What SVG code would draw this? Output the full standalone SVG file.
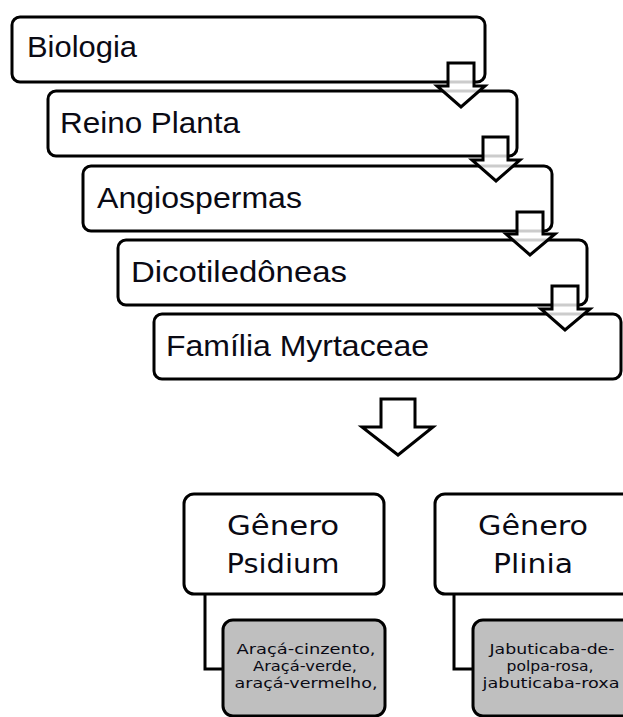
<svg xmlns="http://www.w3.org/2000/svg" width="623" height="717" viewBox="0 0 623 717">
<style>
.box{fill:#fff;stroke:#000;stroke-width:3}
.gray{fill:#bfbfbf;stroke:#000;stroke-width:3}
.arr{fill:#fff;fill-opacity:0.8;stroke:#000;stroke-width:3;stroke-linejoin:miter}
.big{fill:#fff;stroke:#000;stroke-width:3;stroke-linejoin:miter}
.lvl{font-family:"Liberation Sans",Arial,sans-serif;font-size:29px;fill:#0a0a14}
.gen{font-family:"DejaVu Sans",Verdana,sans-serif;font-size:26px;fill:#0a0a14;text-anchor:middle}
.sp{font-family:"DejaVu Sans",Verdana,sans-serif;font-size:14px;fill:#0a0a14;text-anchor:middle}
.con{fill:none;stroke:#000;stroke-width:3}
</style>
<g id="n-biologia"><rect class="box" x="12" y="17" width="473" height="65" rx="8"/><text class="lvl" x="27" y="57" textLength="110" lengthAdjust="spacingAndGlyphs">Biologia</text></g>
<g id="n-reino"><rect class="box" x="48" y="91" width="469" height="65" rx="8"/><text class="lvl" x="60" y="133" textLength="180" lengthAdjust="spacingAndGlyphs">Reino Planta</text></g>
<g id="n-angio"><rect class="box" x="83" y="166" width="469" height="65" rx="8"/><text class="lvl" x="97" y="208" textLength="205" lengthAdjust="spacingAndGlyphs">Angiospermas</text></g>
<g id="n-dico"><rect class="box" x="118" y="240" width="469" height="65" rx="8"/><text class="lvl" x="131" y="282" textLength="216" lengthAdjust="spacingAndGlyphs">Dicotiledôneas</text></g>
<g id="n-familia"><rect class="box" x="154" y="314" width="467" height="65" rx="8"/><text class="lvl" x="166" y="356" textLength="263" lengthAdjust="spacingAndGlyphs">Família Myrtaceae</text></g>
<g id="n-psidium"><rect class="box" x="184" y="494" width="200" height="100" rx="10"/><text class="gen" x="283" y="535" textLength="112" lengthAdjust="spacingAndGlyphs">Gênero</text><text class="gen" x="283" y="573" textLength="113" lengthAdjust="spacingAndGlyphs">Psidium</text></g>
<g id="n-plinia"><rect class="box" x="435" y="494" width="200" height="100" rx="10"/><text class="gen" x="533" y="535" textLength="110" lengthAdjust="spacingAndGlyphs">Gênero</text><text class="gen" x="533" y="573" textLength="80" lengthAdjust="spacingAndGlyphs">Plinia</text></g>
<g id="n-araca"><rect class="gray" x="223" y="620" width="162" height="96" rx="10"/><text class="sp" x="306" y="654" textLength="139" lengthAdjust="spacingAndGlyphs">Araçá-cinzento,</text><text class="sp" x="305" y="671" textLength="104" lengthAdjust="spacingAndGlyphs">Araçá-verde,</text><text class="sp" x="306" y="688" textLength="143" lengthAdjust="spacingAndGlyphs">araçá-vermelho,</text></g>
<g id="n-jabuticaba"><rect class="gray" x="473" y="620" width="162" height="96" rx="10"/><text class="sp" x="552" y="654" textLength="125" lengthAdjust="spacingAndGlyphs">Jabuticaba-de-</text><text class="sp" x="550" y="671" textLength="87" lengthAdjust="spacingAndGlyphs">polpa-rosa,</text><text class="sp" x="551" y="688" textLength="137" lengthAdjust="spacingAndGlyphs">jabuticaba-roxa</text></g>
<g id="connectors">
<path class="arr" d="M448 63 H474 V86 H485 L461 107 L437 86 H448 Z"/>
<path class="arr" d="M483 137 H508 V160 H520 L496 181 L472 160 H483 Z"/>
<path class="arr" d="M517 212 H543 V234 H555 L530 255 L506 234 H517 Z"/>
<path class="arr" d="M552 286 H578 V309 H590 L565 330 L541 309 H552 Z"/>
<path class="big" d="M381 399 H415 V427 H433 L398 455 L362 427 H381 Z"/>
<path class="con" d="M205 594 V669 H223"/>
<path class="con" d="M454 594 V669 H473"/>
</g>
</svg>
